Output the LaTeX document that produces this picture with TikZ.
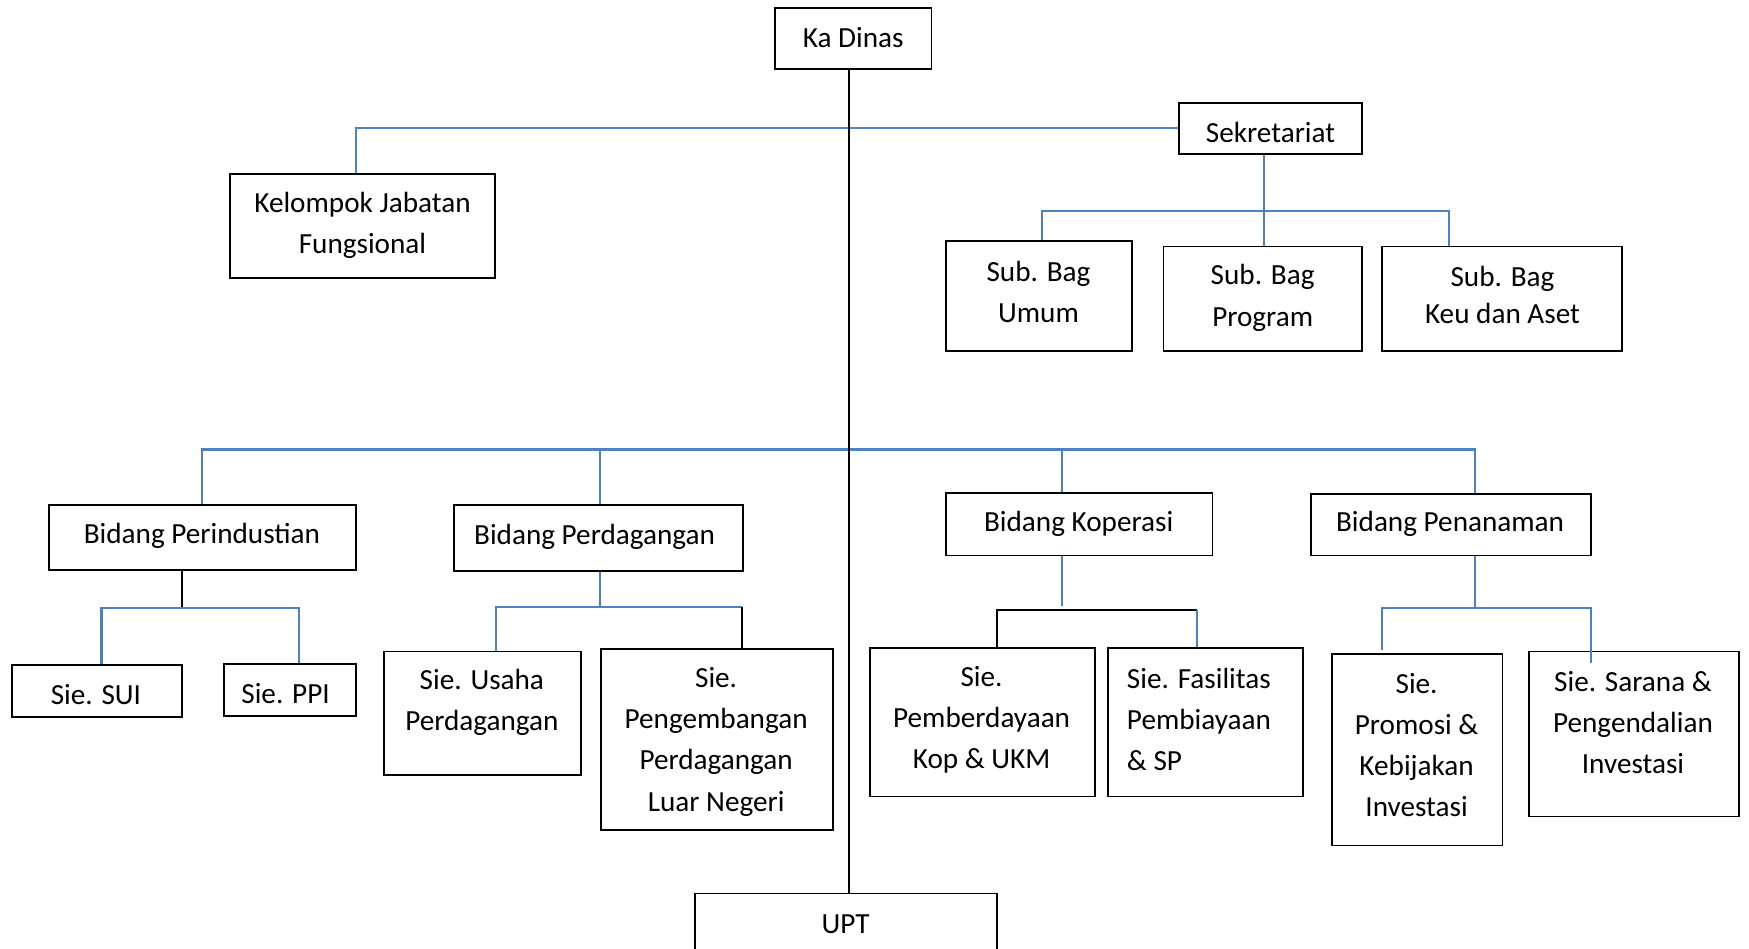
\documentclass[tikz,border=0pt]{standalone}
\usepackage{fontspec}
\setmainfont{Carlito}
\usetikzlibrary{fit}
\definecolor{lnblue}{HTML}{4F81BD}
\begin{document}
\begin{tikzpicture}[x=0.02cm,y=-0.02cm,
 box/.style={draw=black,line width=0.9pt,inner sep=0pt},
 txt/.style={font=\fontsize{14.9}{21}\selectfont,align=center,inner sep=0pt,yshift=-0.03cm},
 bl/.style={draw=lnblue,line width=1.1pt},
 bk/.style={draw=black,line width=1.1pt}]
\useasboundingbox (0,0) rectangle (1568,850);
% boxes
\node[box,fit={(695,7)(835,62)}] (kadinas) {};
\node[box,fit={(1057,92)(1221,138)}] (sekr) {};
\node[box,fit={(206,156)(444,249)}] (kjf) {};
\node[box,fit={(848,216)(1015,315)}] (sbumum) {};
\node[box,fit={(1043,221)(1221,315)}] (sbprog) {};
\node[box,fit={(1239,221)(1454,315)}] (sbkeu) {};
\node[box,fit={(44,453)(319,511)}] (bperind) {};
\node[box,fit={(407,453)(666,512)}] (bperdag) {};
\node[box,fit={(848,442)(1087,498)}] (bkop) {};
\node[box,fit={(1175,443)(1426,498)}] (bpenan) {};
\node[box,fit={(11,596)(163,643)}] (ssui) {};
\node[box,fit={(201,595)(319,642)}] (sppi) {};
\node[box,fit={(344,584)(521,695)}] (susaha) {};
\node[box,fit={(539,582)(747,744)}] (speng) {};
\node[box,fit={(780,581)(982,714)}] (sberd) {};
\node[box,fit={(993,581)(1168,714)}] (sfas) {};
\node[box,fit={(1194,586)(1347,758)}] (spromo) {};
\node[box,fit={(1371,584)(1559,732)}] (ssarana) {};
\node[box,fit={(623,801)(894,880)}] (upt) {};
% texts
\node[txt] at (765,32) {Ka Dinas};
\node[txt] at (1139,117) {Sekretariat};
\node[txt] at (325,200.5) {Kelompok Jabatan\\Fungsional};
\node[txt] at (931,260.5) {Sub. Bag\\Umum};
\node[txt] at (1132,265.5) {Sub. Bag\\Program};
\node[txt,font=\fontsize{14.9}{18.5}\selectfont] at (1347,263) {Sub. Bag\\Keu dan Aset};
\node[txt] at (181,479) {Bidang Perindustian};
\node[txt] at (533,480) {Bidang Perdagangan};
\node[txt] at (967,468) {Bidang Koperasi};
\node[txt] at (1300,468) {Bidang Penanaman};
\node[txt] at (86,621) {Sie. SUI};
\node[txt] at (256,620) {Sie. PPI};
\node[txt] at (432,628.5) {Sie. Usaha\\Perdagangan};
\node[txt] at (642,663.5) {Sie.\\Pengembangan\\Perdagangan\\Luar Negeri};
\node[txt] at (880,644) {Sie.\\Pemberdayaan\\Kop \& UKM};
\node[txt,align=left,anchor=west] at (1010,643.5) {Sie. Fasilitas\\Pembiayaan\\\& SP};
\node[txt] at (1270,666.5) {Sie.\\Promosi \&\\Kebijakan\\Investasi};
\node[txt] at (1464,646) {Sie. Sarana \&\\Pengendalian\\Investasi};
\node[txt] at (758,827) {UPT};
% junction coordinates
\coordinate (tr) at (761,403);
\coordinate (jk) at (319,116);
\coordinate (js) at (1133,189);
\coordinate (jsL) at (934,189);
\coordinate (jsR) at (1299,189);
\coordinate (jbL) at (181,403);
\coordinate (jbR) at (1322,403);
\coordinate (jb2) at (538,403);
\coordinate (jb3) at (952,403);
\coordinate (p1) at (163,545);
\coordinate (p1L) at (91,545);
\coordinate (p1R) at (268,545);
\coordinate (p2) at (538,544);
\coordinate (p2L) at (445,544);
\coordinate (p2R) at (665,544);
\coordinate (p3) at (952,543);
\coordinate (p3L) at (894,547);
\coordinate (p3R) at (1073,547);
\coordinate (p4) at (1322,545);
\coordinate (p4L) at (1239,545);
\coordinate (p4R) at (1426,545);
\coordinate (p4Le) at (1239,583);
\coordinate (p4Re) at (1426,594);
% connectors
\draw[bl] (sekr.west) -| (kjf.north -| jk);
\draw[bl] (sekr.south -| js) -- (js) -- (sbprog.north -| js);
\draw[bl] (sbumum.north -| jsL) -- (jsL) -- (jsR) -- (sbkeu.north -| jsR);
\draw[bl] (bperind.north -| jbL) -- (jbL) -- (jbR) -- (bpenan.north -| jbR);
\draw[bl] (jb2) -- (bperdag.north -| jb2);
\draw[bl] (jb3) -- (bkop.north -| jb3);
\draw[bk] (kadinas.south -| tr) -- (upt.north -| tr);
\draw[bk] (bperind.south -| p1) -- (p1);
\draw[bl] (ssui.north -| p1L) -- (p1L) -- (p1R) -- (sppi.north -| p1R);
\draw[bl] (bperdag.south -| p2) -- (p2);
\draw[bl] (susaha.north -| p2L) -- (p2L) -- (p2R);
\draw[bk] (p2R) -- (speng.north -| p2R);
\draw[bl] (bkop.south -| p3) -- (p3);
\draw[bk] (sberd.north -| p3L) -- (p3L) -- (p3R);
\draw[bl] (p3R) -- (sfas.north -| p3R);
\draw[bl] (bpenan.south -| p4) -- (p4);
\draw[bl] (p4Le) -- (p4L) -- (p4R) -- (p4Re);
\end{tikzpicture}
\end{document}
